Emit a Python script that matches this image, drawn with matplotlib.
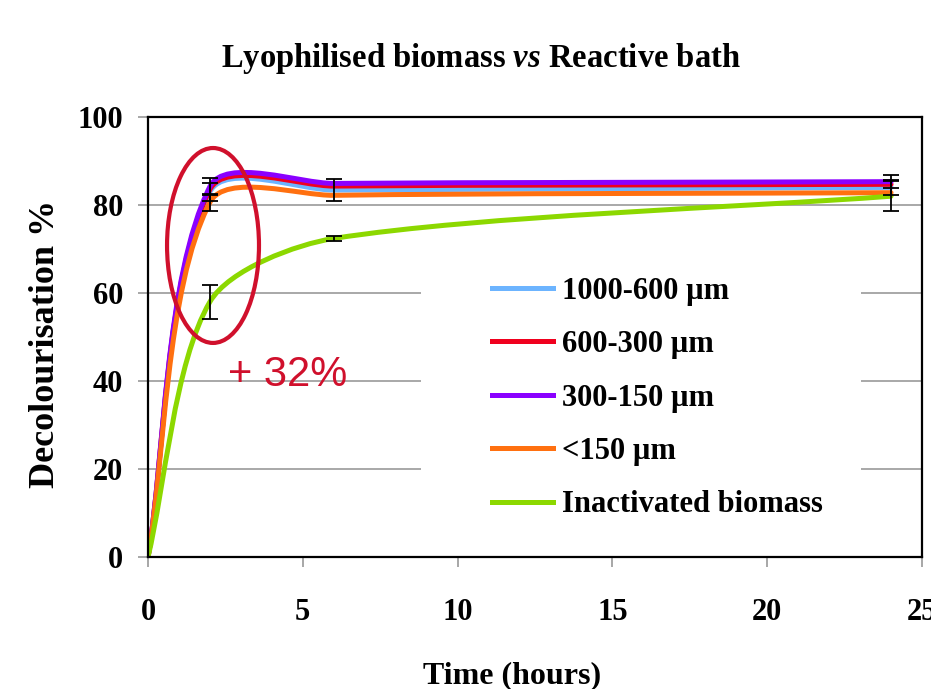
import numpy as np
import matplotlib
matplotlib.use("Agg")
import matplotlib.pyplot as plt
from matplotlib.path import Path
from matplotlib.patches import PathPatch, Ellipse, Rectangle
from matplotlib.lines import Line2D

# ---------------- data ----------------
time_h = [0, 2, 6, 24]
labels = ["1000-600 \u00b5m", "600-300 \u00b5m", "300-150 \u00b5m", "<150 \u00b5m", "Inactivated biomass"]
s1000_600 = [0, 83.0, 83.4, 84.0]
s600_300 = [0, 83.5, 84.3, 84.7]
s300_150 = [0, 84.2, 84.9, 85.3]
s_lt150 = [0, 80.6, 82.2, 82.8]
s_inact = [0, 58.0, 72.4, 82.0]

e1000_600 = [0, 2.0, 2.4, 1.7]
e600_300 = [0, 0, 0, 0]
e300_150 = [0, 2.0, 0, 1.5]
e_lt150 = [0, 2.0, 0, 0]
e_inact = [0, 3.9, 0.5, 3.4]

x_ticks = [0, 5, 10, 15, 20, 25]
y_ticks = [0, 20, 40, 60, 80, 100]

colors = ["#6cb4ff", "#f0001e", "#8a00ff", "#ff7010", "#8cd800"]
series = [s1000_600, s600_300, s300_150, s_lt150, s_inact]
errors = [e1000_600, e600_300, e300_150, e_lt150, e_inact]

# ---------------- figure ----------------
plt.rcParams['font.family'] = ['Liberation Serif', 'DejaVu Serif']
plt.rcParams['font.weight'] = 'bold'
plt.rcParams['mathtext.fontset'] = 'custom'
plt.rcParams['mathtext.bfit'] = 'Liberation Serif:italic:bold'
plt.rcParams['mathtext.it'] = 'Liberation Serif:italic:bold'
plt.rcParams['mathtext.rm'] = 'Liberation Serif:bold'

fig = plt.figure(figsize=(9.31, 6.89), dpi=100)
ax = fig.add_axes([148/931, 1-557/689, (922-148)/931, 440/689])
ax.set_xlim(0, 25)
ax.set_ylim(0, 100)
ax.set_xticks(x_ticks)
ax.set_yticks(y_ticks)
ax.set_xticklabels([str(t) for t in x_ticks])
ax.set_yticklabels([str(t) for t in y_ticks])
ax.tick_params(axis='both', length=7.2, width=1.1, color='#909090', labelsize=22)
ax.tick_params(axis='y', pad=10.5)
ax.tick_params(axis='x', pad=22)
for lab in ax.get_xticklabels() + ax.get_yticklabels():
    lab.set_fontweight('bold')
ax.set_axisbelow(True)
ax.yaxis.grid(True, color='#a8a8a8', lw=1.4)
for sp in ax.spines.values():
    sp.set_color('black')
    sp.set_linewidth(1.6)


def smooth_path(xs, ys, k=0.27):
    pts = ax.transData.transform(np.column_stack([xs, ys]))
    n = len(pts)
    dirs = []
    for i in range(n):
        if i == 0:
            d = pts[1] - pts[0]
        elif i == n - 1:
            d = pts[-1] - pts[-2]
        else:
            d = pts[i + 1] - pts[i - 1]
        dirs.append(d / np.hypot(*d))
    verts = [pts[0]]
    codes = [Path.MOVETO]
    for i in range(n - 1):
        L = np.hypot(*(pts[i + 1] - pts[i]))
        verts += [pts[i] + dirs[i] * L * k, pts[i + 1] - dirs[i + 1] * L * k, pts[i + 1]]
        codes += [Path.CURVE4] * 3
    return Path(ax.transData.inverted().transform(np.array(verts)), codes)


handles = []
for vals, col, lab in zip(series, colors, labels):
    ax.add_patch(PathPatch(smooth_path(time_h, vals), fill=False, edgecolor=col,
                           lw=3.6, capstyle='round', joinstyle='round', zorder=2))
    handles.append(Line2D([], [], color=col, lw=3.6, label=lab))

for vals, errs in zip(series, errors):
    xs = [t for t, e in zip(time_h, errs) if e > 0]
    ys = [v for v, e in zip(vals, errs) if e > 0]
    es = [e for e in errs if e > 0]
    if xs:
        ax.errorbar(xs, ys, yerr=es, fmt='none', ecolor='black', elinewidth=1.3,
                    capsize=5.5, capthick=1.3, zorder=4)

# white legend area hiding the gridlines
ax.add_patch(Rectangle((0.3527, 0.066), 0.921 - 0.3527, 0.664 - 0.066, transform=ax.transAxes,
                       facecolor='white', edgecolor='none', zorder=1))
leg = ax.legend(handles=handles, loc='upper left', bbox_to_anchor=(0.4445, 0.637),
                fontsize=22, frameon=False, borderpad=0, handlelength=2.0,
                handletextpad=0.3, labelspacing=0.80, borderaxespad=0)
for t in leg.get_texts():
    t.set_fontweight('bold')

ax.add_patch(Ellipse((2.1, 70.8), 2.97, 44.3, fill=False, edgecolor='#d0102c', lw=3, zorder=5))
ax.text(4.5, 41.4, "+ 32%", color='#d0102c', fontsize=30, fontweight='normal',
        family=['Liberation Sans', 'DejaVu Sans'], ha='center', va='center', zorder=5)

ax.set_ylabel("Decolourisation %", fontsize=26, fontweight='bold', va='center', ha='center')
ax.yaxis.set_label_coords(-0.133, 0.485)
ax.set_xlabel("Time (hours)", fontsize=23, fontweight='bold', va='center', ha='center')
ax.xaxis.set_label_coords(0.470, -0.2705)

fig.text(481/931, 1-58/689, r"Lyophilised biomass $\mathit{vs}$ Reactive bath",
         fontsize=23.5, fontweight='bold', ha='center', va='center')

fig.savefig("out.png", dpi=100)
